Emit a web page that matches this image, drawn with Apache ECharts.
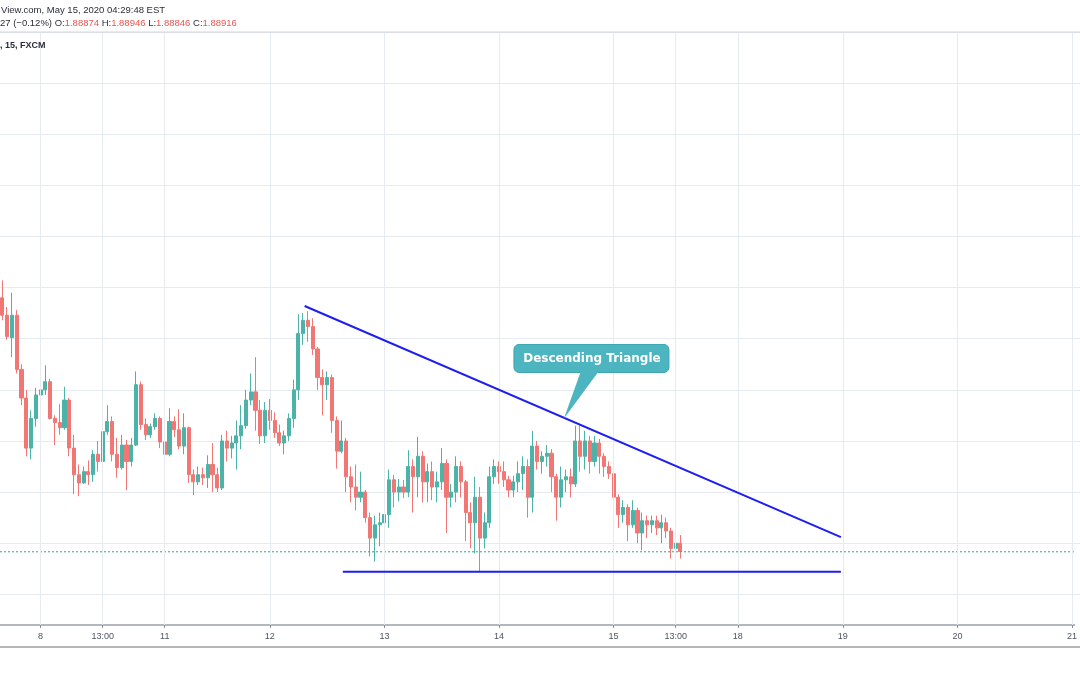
<!DOCTYPE html>
<html><head><meta charset="utf-8">
<script src="https://cdn.jsdelivr.net/npm/echarts@6/dist/echarts.min.js"></script>
<style>html,body{margin:0;padding:0;background:#fff}#c{width:1080px;height:675px}</style>
</head><body><div id="c"></div>
<script>
// ---- data (hourly bars) ----
const opens = [1.9140,1.9123,1.9101,1.9123,1.9070,1.9042,1.8993,1.9022,1.9045,1.9050,
1.9058,1.9022,1.9018,1.9013,1.9040,1.8993,1.8967,1.8959,1.8970,1.8967,
1.8987,1.8980,1.9009,1.9019,1.8987,1.8974,1.8996,1.8980,1.8996,1.9055,
1.9016,1.9006,1.9014,1.9022,1.8999,1.8987,1.9019,1.9011,1.8995,1.9013,
1.8967,1.8960,1.8967,1.8964,1.8977,1.8967,1.8954,1.9000,1.8993,1.8998,
1.9005,1.9015,1.9040,1.9048,1.9030,1.9005,1.9030,1.9020,1.9008,1.8998,
1.9005,1.9022,1.9050,1.9105,1.9118,1.9112,1.9090,1.9062,1.9055,1.9062,
1.9020,1.8990,1.9000,1.8965,1.8955,1.8945,1.8950,1.8925,1.8905,1.8918,
1.8920,1.8928,1.8962,1.8950,1.8955,1.8950,1.8975,1.8965,1.8985,1.8960,
1.8970,1.8955,1.8960,1.8978,1.8945,1.8950,1.8975,1.8960,1.8930,1.8920,
1.8945,1.8905,1.8920,1.8965,1.8975,1.8970,1.8962,1.8952,1.8960,1.8968,
1.8975,1.8945,1.8995,1.8980,1.8985,1.8988,1.8965,1.8945,1.8962,1.8965,
1.8958,1.9000,1.8985,1.9000,1.8980,1.8998,1.8985,1.8975,1.8968,1.8945,
1.8928,1.8935,1.8918,1.8932,1.8910,1.8922,1.8918,1.8922,1.8915,1.8920,
1.8912,1.8895,1.8900];
const closes = [1.9123,1.9102,1.9123,1.9070,1.9042,1.8993,1.9022,1.9045,1.9050,1.9058,
1.9022,1.9018,1.9013,1.9040,1.8993,1.8967,1.8959,1.8970,1.8967,1.8987,
1.8980,1.9009,1.9019,1.8987,1.8974,1.8996,1.8980,1.8996,1.9055,1.9016,
1.9006,1.9014,1.9022,1.8999,1.8987,1.9019,1.9011,1.8995,1.9013,1.8967,
1.8960,1.8967,1.8964,1.8977,1.8967,1.8954,1.9000,1.8993,1.8998,1.9005,
1.9015,1.9040,1.9048,1.9030,1.9005,1.9030,1.9020,1.9008,1.8998,1.9005,
1.9022,1.9050,1.9105,1.9118,1.9112,1.9090,1.9062,1.9055,1.9062,1.9020,
1.8990,1.9000,1.8965,1.8955,1.8945,1.8950,1.8925,1.8905,1.8918,1.8920,
1.8928,1.8962,1.8950,1.8955,1.8950,1.8975,1.8965,1.8985,1.8960,1.8970,
1.8955,1.8960,1.8978,1.8945,1.8950,1.8975,1.8960,1.8930,1.8920,1.8945,
1.8905,1.8920,1.8965,1.8975,1.8970,1.8962,1.8952,1.8960,1.8968,1.8975,
1.8945,1.8995,1.8980,1.8985,1.8988,1.8965,1.8945,1.8962,1.8965,1.8958,
1.9000,1.8985,1.9000,1.8980,1.8998,1.8985,1.8975,1.8968,1.8945,1.8928,
1.8935,1.8918,1.8932,1.8910,1.8922,1.8918,1.8922,1.8915,1.8920,1.8912,
1.8895,1.8900,1.8892];
const lows = [1.9118,1.9099,1.9082,1.9066,1.9035,1.8985,1.8982,1.9014,1.9034,1.9045,
1.9021,1.8996,1.9006,1.9011,1.8985,1.8948,1.8946,1.8958,1.8957,1.8960,
1.8970,1.8978,1.9006,1.8980,1.8964,1.8972,1.8952,1.8975,1.8995,1.9011,
1.9001,1.9003,1.9011,1.8993,1.8972,1.8985,1.9004,1.8992,1.8987,1.8959,
1.8947,1.8957,1.8957,1.8954,1.8950,1.8950,1.8952,1.8980,1.8983,1.8972,
1.8992,1.9012,1.9035,1.9010,1.8997,1.8998,1.9011,1.9003,1.8995,1.8987,
1.9000,1.9013,1.9040,1.9094,1.9097,1.9084,1.9050,1.9025,1.9040,1.9008,
1.8973,1.8988,1.8950,1.8940,1.8932,1.8940,1.8920,1.8887,1.8882,1.8897,
1.8913,1.8915,1.8935,1.8941,1.8944,1.8945,1.8930,1.8945,1.8940,1.8940,
1.8942,1.8940,1.8952,1.8910,1.8935,1.8940,1.8945,1.8902,1.8895,1.8890,
1.8872,1.8895,1.8915,1.8958,1.8958,1.8955,1.8945,1.8945,1.8950,1.8952,
1.8925,1.8930,1.8972,1.8968,1.8975,1.8950,1.8922,1.8935,1.8950,1.8945,
1.8955,1.8970,1.8972,1.8968,1.8975,1.8968,1.8965,1.8963,1.8935,1.8915,
1.8920,1.8902,1.8915,1.8900,1.8893,1.8905,1.8910,1.8908,1.8900,1.8905,
1.8885,1.8868,1.8885];
const highs = [1.9157,1.9131,1.9145,1.9128,1.9075,1.9050,1.9030,1.9052,1.9058,1.9074,
1.9061,1.9025,1.9036,1.9053,1.9042,1.9006,1.8977,1.8975,1.8981,1.8991,
1.9000,1.9017,1.9035,1.9024,1.9003,1.9006,1.9001,1.9003,1.9068,1.9058,
1.9022,1.9017,1.9027,1.9024,1.9002,1.9032,1.9024,1.9031,1.9027,1.9014,
1.8972,1.8975,1.8974,1.8986,1.8998,1.8974,1.9006,1.9010,1.9005,1.9020,
1.9035,1.9050,1.9066,1.9082,1.9040,1.9038,1.9041,1.9028,1.9016,1.9010,
1.9027,1.9060,1.9124,1.9125,1.9127,1.9120,1.9092,1.9070,1.9068,1.9065,
1.9024,1.9020,1.9003,1.8975,1.8977,1.8970,1.8952,1.8930,1.8927,1.8930,
1.8933,1.8972,1.8967,1.8963,1.8962,1.8991,1.8982,1.9004,1.8990,1.8978,
1.8980,1.8970,1.8993,1.8982,1.8958,1.8985,1.8980,1.8962,1.8940,1.8965,
1.8955,1.8930,1.8975,1.8982,1.8980,1.8980,1.8966,1.8966,1.8980,1.8985,
1.8982,1.9010,1.9000,1.8990,1.8996,1.8992,1.8968,1.8975,1.8972,1.8973,
1.9015,1.9015,1.9010,1.9005,1.9005,1.9002,1.8988,1.8980,1.8970,1.8948,
1.8942,1.8938,1.8942,1.8935,1.8930,1.8927,1.8927,1.8927,1.8928,1.8925,
1.8915,1.8905,1.8908];

const tickLabels = {
  '05-08 00:00':'8', '05-08 13:00':'13:00', '05-11 02:00':'11', '05-12 00:00':'12',
  '05-13 00:00':'13', '05-14 00:00':'14', '05-15 00:00':'15', '05-15 13:00':'13:00',
  '05-18 02:00':'18', '05-19 00:00':'19', '05-20 00:00':'20', '05-21 00:00':'21'
};
const priceMin = 1.882, priceMax = 1.940;          // visible price window
const gridMin = 1.885, gridMax = 1.940, gridStep = 0.005; // price grid levels
const lastPrice = 1.88916;
const resistance = [[63.3,1.9132],[175.6,1.8906]];
const support = [[71.3,1.8872],[175.6,1.8872]];
const calloutAt = [117.6,1.9022];
const calloutText = 'Descending Triangle';
const headerLine1 = 'View.com, May 15, 2020 04:29:48 EST';
const headerChange = '27 (−0.12%)';
const headerOHLC = [['O:','1.88874'],['H:','1.88946'],['L:','1.88846'],['C:','1.88916']];
const headerLine3 = ', 15, FXCM';

// ---- hourly categories, FX weekend skipped ----
const N = 225;
const categories = [];
const pad = n => (n < 10 ? '0' : '') + n;
let t = Date.UTC(2020, 4, 7, 16);
while (categories.length < N) {
  const d = new Date(t);
  const dow = d.getUTCDay(), h = d.getUTCHours();
  if (!((dow === 5 && h >= 17) || dow === 6 || (dow === 0 && h < 17))) {
    categories.push(pad(d.getUTCMonth() + 1) + '-' + pad(d.getUTCDate()) + ' ' + pad(h) + ':00');
  }
  t += 3600000;
}
const candles = opens.map((o, i) => [o, closes[i], lows[i], highs[i]]);
const tickIdx = Object.keys(tickLabels).map(k => categories.indexOf(k));
const showTick = (i, v) => tickLabels[v] !== undefined;
const lastLine = [[-0.5, lastPrice], [N - 0.5, lastPrice]];

// layout: main plot from y=32 to y=625; the price-grid axis uses the same px/price scale
const H = 675, TOP = 32, BOTTOM = 50;
const pxPer = (H - TOP - BOTTOM) / (priceMax - priceMin);
const g2Top = TOP + (priceMax - gridMax) * pxPer;
const g2Bottom = BOTTOM + (gridMin - priceMin) * pxPer;

const chart = echarts.init(document.getElementById('c'));
const FONT = '"Liberation Sans", Arial, sans-serif';
const UP = '#4cb3a8', DOWN = '#f27673';
chart.setOption({
  animation: false,
  backgroundColor: '#ffffff',
  grid: [
    { left: 0, right: 0, top: TOP, bottom: BOTTOM },
    { left: 0, right: 0, top: g2Top, bottom: g2Bottom }
  ],
  xAxis: [{
    type: 'category', data: categories, boundaryGap: true, gridIndex: 0,
    axisLine: { lineStyle: { color: '#b4b7bf', width: 2 } },
    axisTick: { show: true, alignWithLabel: true, interval: showTick, length: 3, lineStyle: { color: '#8a8d94' } },
    axisLabel: { interval: showTick, formatter: v => tickLabels[v] || '', color: '#50535e', fontSize: 9, margin: 7, fontFamily: FONT },
    splitLine: { show: false }
  }, {
    type: 'value', min: -0.5, max: N - 0.5, show: false, gridIndex: 0
  }, {
    type: 'value', min: 0, max: 1, show: false, gridIndex: 1
  }],
  yAxis: [{
    type: 'value', min: priceMin, max: priceMax, show: false, gridIndex: 0
  }, {
    type: 'value', gridIndex: 1, min: gridMin, max: gridMax, interval: gridStep, z: 0,
    axisLine: { show: false }, axisTick: { show: false }, axisLabel: { show: false },
    splitLine: { show: true, lineStyle: { color: '#e6ebf1', width: 1 } }
  }],
  series: [{
    type: 'line', xAxisIndex: 1, yAxisIndex: 0, data: [], z: 0, silent: true,
    markLine: {
      silent: true, symbol: ['none', 'none'], label: { show: false }, animation: false,
      lineStyle: { color: '#e6ebf1', width: 1, type: 'solid' },
      data: tickIdx.map(i => ({ xAxis: i }))
    }
  }, {
    type: 'candlestick', data: candles, barWidth: 3.6, z: 2,
    itemStyle: { color: UP, color0: DOWN, borderColor: UP, borderColor0: DOWN, borderWidth: 1 }
  }, {
    type: 'line', xAxisIndex: 1, data: resistance, symbol: 'none', z: 5, silent: true,
    lineStyle: { color: '#1e1ef2', width: 2 }
  }, {
    type: 'line', xAxisIndex: 1, data: support, symbol: 'none', z: 5, silent: true,
    lineStyle: { color: '#1e1ef2', width: 2 }
  }, {
    type: 'line', xAxisIndex: 1, data: lastLine, symbol: 'none', z: 4, silent: true,
    lineStyle: { color: '#26a69a', width: 1, type: [2, 2] }
  }]
});

const p = chart.convertToPixel({ seriesIndex: 2 }, calloutAt);
const tx = p[0], ty = p[1];
const F2 = '9.5px ' + FONT;
const rich = { d: { fill: '#2a2e39', font: F2 }, r: { fill: '#ef5350', font: F2 } };
const line2 = '{d|' + headerChange + ' }' + headerOHLC.map(o => '{d|' + o[0] + '}{r|' + o[1] + '}').join('{d| }');
chart.setOption({
  graphic: [
    { type: 'line', shape: { x1: 0, y1: 32, x2: 1080, y2: 32 }, style: { stroke: '#d1d4dc', lineWidth: 1 }, z: 10 },
    { type: 'line', shape: { x1: 0, y1: 647, x2: 1080, y2: 647 }, style: { stroke: '#b4b7bf', lineWidth: 2 }, z: 10 },
    { type: 'text', x: 1, y: 10, style: { text: headerLine1, font: F2, fill: '#2a2e39', verticalAlign: 'middle' }, z: 10 },
    { type: 'text', x: 0, y: 23, style: { text: line2, rich: rich, font: F2, verticalAlign: 'middle' }, z: 10 },
    { type: 'text', x: 0, y: 46, style: { text: headerLine3, font: 'bold 9px ' + FONT, fill: '#2a2e39', verticalAlign: 'middle' }, z: 10 },
    { type: 'rect', shape: { x: tx - 50, y: ty - 74, width: 155, height: 28, r: 5 }, style: { fill: '#4cb5c0', stroke: '#3aa6b1', lineWidth: 1 }, z: 20 },
    { type: 'polygon', shape: { points: [[tx + 17, ty - 47.5], [tx + 35, ty - 47.5], [tx, ty]] }, style: { fill: '#4cb5c0' }, z: 21 },
    { type: 'text', x: tx + 28, y: ty - 60, style: { text: calloutText, font: 'bold 12px "DejaVu Sans", Verdana, sans-serif', fill: '#ffffff', align: 'center', verticalAlign: 'middle' }, z: 22 }
  ]
});
</script>
</body></html>
